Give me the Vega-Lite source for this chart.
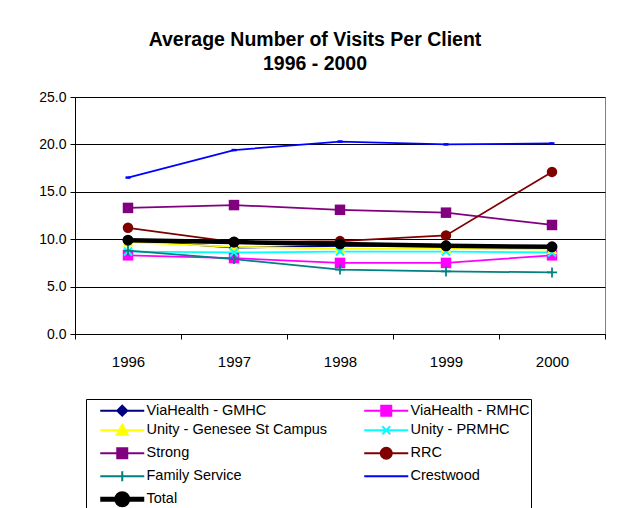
{
  "$schema": "https://vega.github.io/schema/vega-lite/v6.json",
  "width": 530,
  "height": 237,
  "autosize": "none",
  "padding": {"left": 75, "top": 97, "right": 29, "bottom": 174},
  "background": "white",
  "title": {
    "text": ["Average Number of Visits Per Client", "1996 - 2000"],
    "font": "Liberation Sans",
    "fontSize": 19.5,
    "fontWeight": "bold",
    "color": "black",
    "lineHeight": 24,
    "anchor": "middle",
    "frame": "group",
    "dx": -25,
    "offset": 16
  },
  "data": {
    "values": [
      {"series": "ViaHealth - GMHC", "year": "1996", "value": 9.9},
      {"series": "ViaHealth - GMHC", "year": "1997", "value": 9.1},
      {"series": "ViaHealth - GMHC", "year": "1998", "value": 9.3},
      {"series": "ViaHealth - GMHC", "year": "1999", "value": 9.3},
      {"series": "ViaHealth - GMHC", "year": "2000", "value": 9.2},
      {"series": "ViaHealth - RMHC", "year": "1996", "value": 8.3},
      {"series": "ViaHealth - RMHC", "year": "1997", "value": 8.0},
      {"series": "ViaHealth - RMHC", "year": "1998", "value": 7.5},
      {"series": "ViaHealth - RMHC", "year": "1999", "value": 7.5},
      {"series": "ViaHealth - RMHC", "year": "2000", "value": 8.3},
      {"series": "Unity - Genesee St Campus", "year": "1996", "value": 9.7},
      {"series": "Unity - Genesee St Campus", "year": "1997", "value": 9.2},
      {"series": "Unity - Genesee St Campus", "year": "1998", "value": 9.0},
      {"series": "Unity - Genesee St Campus", "year": "1999", "value": 9.0},
      {"series": "Unity - Genesee St Campus", "year": "2000", "value": 8.9},
      {"series": "Unity - PRMHC", "year": "1996", "value": 8.7},
      {"series": "Unity - PRMHC", "year": "1997", "value": 8.6},
      {"series": "Unity - PRMHC", "year": "1998", "value": 8.7},
      {"series": "Unity - PRMHC", "year": "1999", "value": 8.7},
      {"series": "Unity - PRMHC", "year": "2000", "value": 8.6},
      {"series": "Strong", "year": "1996", "value": 13.3},
      {"series": "Strong", "year": "1997", "value": 13.6},
      {"series": "Strong", "year": "1998", "value": 13.1},
      {"series": "Strong", "year": "1999", "value": 12.8},
      {"series": "Strong", "year": "2000", "value": 11.5},
      {"series": "RRC", "year": "1996", "value": 11.2},
      {"series": "RRC", "year": "1997", "value": 9.7},
      {"series": "RRC", "year": "1998", "value": 9.8},
      {"series": "RRC", "year": "1999", "value": 10.4},
      {"series": "RRC", "year": "2000", "value": 17.1},
      {"series": "Family Service", "year": "1996", "value": 8.8},
      {"series": "Family Service", "year": "1997", "value": 7.9},
      {"series": "Family Service", "year": "1998", "value": 6.8},
      {"series": "Family Service", "year": "1999", "value": 6.6},
      {"series": "Family Service", "year": "2000", "value": 6.5},
      {"series": "Crestwood", "year": "1996", "value": 16.5},
      {"series": "Crestwood", "year": "1997", "value": 19.4},
      {"series": "Crestwood", "year": "1998", "value": 20.3},
      {"series": "Crestwood", "year": "1999", "value": 20.0},
      {"series": "Crestwood", "year": "2000", "value": 20.1},
      {"series": "Total", "year": "1996", "value": 9.9},
      {"series": "Total", "year": "1997", "value": 9.7},
      {"series": "Total", "year": "1998", "value": 9.5},
      {"series": "Total", "year": "1999", "value": 9.3},
      {"series": "Total", "year": "2000", "value": 9.2}
    ]
  },
  "encoding": {
    "x": {
      "field": "year",
      "type": "ordinal",
      "title": null,
      "scale": {"type": "band", "paddingInner": 0, "paddingOuter": 0},
      "axis": {
        "labelAngle": 0,
        "tickBand": "extent",
        "tickSize": 5,
        "labelPadding": 15,
        "grid": false,
        "domainColor": "black",
        "tickColor": "black",
        "labelFont": "Liberation Sans",
        "labelFontSize": 15,
        "labelColor": "black"
      }
    },
    "y": {
      "field": "value",
      "type": "quantitative",
      "title": null,
      "scale": {"domain": [0, 25], "nice": false},
      "axis": {
        "values": [0, 5, 10, 15, 20, 25],
        "format": ".1f",
        "tickSize": 5,
        "labelPadding": 4,
        "grid": true,
        "gridColor": "black",
        "gridOpacity": 1,
        "domainColor": "black",
        "tickColor": "black",
        "labelFont": "Liberation Sans",
        "labelFontSize": 14,
        "labelColor": "black"
      }
    },
    "color": {
      "field": "series",
      "type": "nominal",
      "scale": {
        "domain": ["ViaHealth - GMHC", "ViaHealth - RMHC", "Unity - Genesee St Campus", "Unity - PRMHC", "Strong", "RRC", "Family Service", "Crestwood", "Total"],
        "range": ["#000080", "#FF00FF", "#FFFF00", "#00FFFF", "#800080", "#800000", "#008080", "#0000FF", "#000000"]
      },
      "legend": {
        "title": null,
        "orient": "none",
        "legendX": 11,
        "legendY": 302,
        "direction": "horizontal",
        "columns": 2,
        "gridAlign": "all",
        "strokeColor": "black",
        "padding": 1,
        "symbolSize": 100,
        "symbolOffset": 28,
        "labelOffset": 17,
        "labelLimit": 0,
        "columnPadding": 23,
        "rowPadding": -12,
        "labelFont": "Liberation Sans",
        "labelFontSize": 14.5,
        "labelColor": "black",
        "encode": {
          "symbols": {
            "update": {
              "shape": {"signal": "datum.value == 'ViaHealth - GMHC' ? 'M-4.4,0H4.4M0,-1L1,0L0,1L-1,0Z' : datum.value == 'ViaHealth - RMHC' || datum.value == 'Strong' ? 'M-4.4,0H4.4M-1,-1H1V1H-1Z' : datum.value == 'Unity - Genesee St Campus' ? 'M-4.4,0H4.4M0,-1.1L1.1,0.9H-1.1Z' : datum.value == 'Unity - PRMHC' ? 'M-4.4,0H4.4M-0.8,-0.8L0.8,0.8M-0.8,0.8L0.8,-0.8' : datum.value == 'Family Service' ? 'M-4.4,0H4.4M0,-1V1' : datum.value == 'Crestwood' ? 'M-4.4,0H4.4' : 'M-4.4,0H4.4M1.1,0A1.1,1.1,0,1,1,-1.1,0A1.1,1.1,0,1,1,1.1,0Z'"},
              "fill": {"scale": "color", "field": "value"},
              "stroke": {"scale": "color", "field": "value"},
              "strokeWidth": {"signal": "datum.value == 'Total' ? 5 : 2"},
              "opacity": {"value": 1}
            }
          }
        }
      }
    }
  },
  "layer": [
    {
      "transform": [{"filter": "datum.series != 'Total'"}],
      "mark": {"type": "line", "strokeWidth": 1.75}
    },
    {
      "transform": [{"filter": "datum.series == 'ViaHealth - GMHC'"}],
      "mark": {"type": "point", "shape": "M0,-1L1,0L0,1L-1,0Z", "filled": true, "size": 100, "opacity": 1}
    },
    {
      "transform": [{"filter": "datum.series == 'ViaHealth - RMHC' || datum.series == 'Strong'"}],
      "mark": {"type": "point", "shape": "square", "filled": true, "size": 110, "opacity": 1}
    },
    {
      "transform": [{"filter": "datum.series == 'Unity - Genesee St Campus'"}],
      "mark": {"type": "point", "shape": "M0,-1.1L1.1,0.9H-1.1Z", "filled": true, "size": 100, "opacity": 1}
    },
    {
      "transform": [{"filter": "datum.series == 'Unity - PRMHC'"}],
      "mark": {"type": "point", "shape": "M-0.8,-0.8L0.8,0.8M-0.8,0.8L0.8,-0.8", "filled": false, "size": 100, "opacity": 1, "strokeWidth": 2}
    },
    {
      "transform": [{"filter": "datum.series == 'RRC'"}],
      "mark": {"type": "point", "shape": "circle", "filled": true, "size": 110, "opacity": 1}
    },
    {
      "transform": [{"filter": "datum.series == 'Family Service'"}],
      "mark": {"type": "point", "shape": "M-1,0H1M0,-1V1", "filled": false, "size": 100, "opacity": 1, "strokeWidth": 1.75}
    },
    {
      "transform": [{"filter": "datum.series == 'Crestwood'"}],
      "mark": {"type": "point", "shape": "M-0.5,0H0.5", "filled": false, "size": 100, "opacity": 1, "strokeWidth": 2.5}
    },
    {
      "transform": [{"filter": "datum.series == 'Total'"}],
      "mark": {"type": "line", "strokeWidth": 4.5}
    },
    {
      "transform": [{"filter": "datum.series == 'Total'"}],
      "mark": {"type": "point", "shape": "circle", "filled": true, "size": 120, "opacity": 1}
    }
  ],
  "config": {
    "view": {"stroke": "#808080", "strokeWidth": 1},
    "axis": {"domainWidth": 1, "tickWidth": 1, "gridWidth": 1}
  }
}
